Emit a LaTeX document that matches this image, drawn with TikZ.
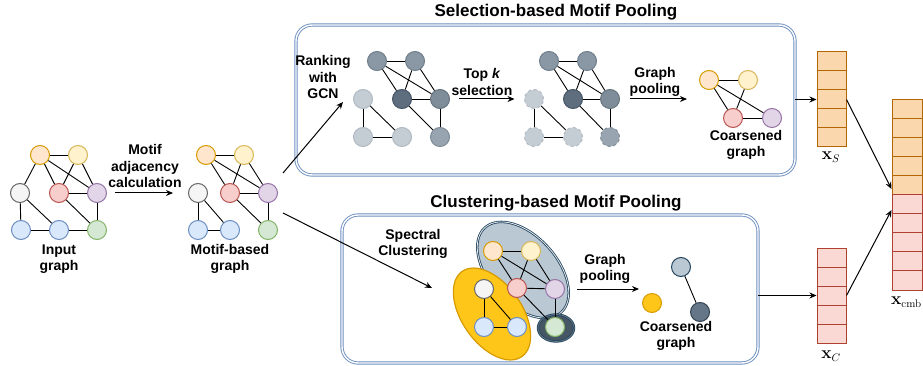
\documentclass[tikz,border=0pt]{standalone}
\usepackage{amsmath}
\usepackage[no-math]{fontspec}
\setmainfont{Liberation Sans}
\usetikzlibrary{arrows.meta}
\usetikzlibrary{shapes,arrows}
\usetikzlibrary{calc}

\definecolor{Forange}{HTML}{FFE6CC}\definecolor{Dorange}{HTML}{D79B00}
\definecolor{Fyellow}{HTML}{FFF2CC}\definecolor{Dyellow}{HTML}{D6B656}
\definecolor{Fwhite}{HTML}{F5F5F5}\definecolor{Dwhite}{HTML}{666666}
\definecolor{Fred}{HTML}{F8CECC}\definecolor{Dred}{HTML}{B85450}
\definecolor{Fpurple}{HTML}{E1D5E7}\definecolor{Dpurple}{HTML}{9673A6}
\definecolor{Fblue}{HTML}{DAE8FC}\definecolor{Dblue}{HTML}{6C8EBF}
\definecolor{Fgreen}{HTML}{D5E8D4}\definecolor{Dgreen}{HTML}{82B366}
\definecolor{Fgone}{HTML}{8A98A5}\definecolor{Dgone}{HTML}{6F7E8B}
\definecolor{Fgtwo}{HTML}{5E6E7F}\definecolor{Dgtwo}{HTML}{475666}
\definecolor{Fgthree}{HTML}{7F8D9A}\definecolor{Dgthree}{HTML}{66747F}
\definecolor{Fgfour}{HTML}{98A4AF}\definecolor{Dgfour}{HTML}{7F8C97}
\definecolor{Fgfive}{HTML}{C4CCD4}\definecolor{Dgfive}{HTML}{B0B9C2}
\definecolor{Famber}{HTML}{FFC61A}\definecolor{Damber}{HTML}{D79B00}
\definecolor{Fslate}{HTML}{BAC8D3}\definecolor{Dslate}{HTML}{23445D}
\definecolor{Fdark}{HTML}{647687}\definecolor{Ddark}{HTML}{314354}
\definecolor{Fvecs}{HTML}{FAD7AC}\definecolor{Dvecs}{HTML}{B46504}
\definecolor{Fvecc}{HTML}{FAD9D5}\definecolor{Dvecc}{HTML}{AE4132}

\tikzset{
  vtx/.style={circle, line width=1pt, minimum size=19pt, inner sep=0pt},
  lnk/.style={line width=0.9pt},
  arr/.style={-{Stealth[length=7pt,width=6pt]}, line width=1pt},
  txt/.style={font=\fontsize{14}{16.5}\selectfont\bfseries, align=center, inner sep=0pt},
  ttl/.style={font=\fontsize{17}{20}\selectfont\bfseries, inner sep=0pt},
  mth/.style={font=\fontsize{16}{18}\selectfont, inner sep=0pt},
  panel/.style={draw=Dblue, double=white, double distance=1.4pt, line width=0.9pt,
    rounded corners=16pt, fill=white, inner sep=0pt},
  vecS/.style={draw=Dvecs, fill=Fvecs, line width=1pt, minimum width=29pt,
    minimum height=19pt, inner sep=0pt},
  vecC/.style={draw=Dvecc, fill=Fvecc, line width=1pt, minimum width=29pt,
    minimum height=19pt, inner sep=0pt}
}

\begin{document}
\begin{tikzpicture}[x=1pt,y=-1pt]
\useasboundingbox (0,0) rectangle (923,366);

\node[ttl] (selTtl) at (556,12) {Selection-based Motif Pooling};
\node[ttl] (cluTtl) at (556,203) {Clustering-based Motif Pooling};
\node[panel, minimum width=499pt, minimum height=150pt] (selBox) at (545.5,100) {};
\node[panel, minimum width=416pt, minimum height=148pt] (cluBox) at (550,289) {};

\foreach \n/\x/\y/\c in
{1/40/155/orange, 2/78/155/yellow, 3/20/193/white, 4/59/193/red,
5/97/193/purple, 6/21/230/blue, 7/59/230/blue, 8/97/230/green}
\node[vtx, fill=F\c, draw=D\c] (i\n) at (\x,\y) {};
\foreach \u/\v in {1/2,1/3,1/4,1/5,2/4,2/5,3/6,3/7,4/5,4/8,5/8,6/7,7/8}
\draw[lnk] (i\u) -- (i\v);
\node[txt] (inLbl) at (59,259) {Input\\graph};

\foreach \n/\x/\y/\c in
{1/206/155/orange, 2/244/155/yellow, 3/198/193/white, 4/230/193/red,
5/268/193/purple, 6/198/230/blue, 7/230/230/blue, 8/268/230/green}
\node[vtx, fill=F\c, draw=D\c] (m\n) at (\x,\y) {};
\foreach \u/\v in {1/2,1/4,1/5,2/4,2/5,4/5,4/8,5/8,3/6,3/7,6/7}
\draw[lnk] (m\u) -- (m\v);
\node[txt] (motLbl) at (230,259) {Motif-based\\graph};

\node[txt] (adjLbl) at (145,166) {Motif\\adjacency\\calculation};
\draw[arr, shorten <=8pt, shorten >=15pt] (i5) -- (m3);

\coordinate (motOutA) at (283,173);
\coordinate (selIn) at (343,102);
\coordinate (motOutB) at (283,213);
\coordinate (cluIn) at (432,288);
\draw[arr] (motOutA) -- (selIn);
\draw[arr] (motOutB) -- (cluIn);

\node[txt] (rankLbl) at (323,77) {Ranking\\with\\GCN};
\foreach \n/\x/\y/\c in
{1/377/61/gone, 2/415/61/gone, 3/402/99/gtwo, 4/440/99/gthree,
5/363/99/gfive, 6/363/137/gfive, 7/402/137/gfive, 8/440/137/gfour}
\node[vtx, fill=F\c, draw=D\c] (s\n) at (\x,\y) {};
\foreach \u/\v in {1/2,1/3,1/4,2/3,2/4,3/4,3/8,4/8,5/6,5/7,6/7}
\draw[lnk] (s\u) -- (s\v);

\foreach \n/\x/\y/\c in
{1/549/61/gone, 2/587/61/gone, 3/573/99/gtwo, 4/610/99/gthree}
\node[vtx, fill=F\c, draw=D\c] (t\n) at (\x,\y) {};
\foreach \n/\x/\y/\c in
{5/534/99/gfive, 6/534/137/gfive, 7/573/137/gfive, 8/610/137/gfour}
\node[vtx, dashed, fill=F\c, draw=D\c] (t\n) at (\x,\y) {};
\foreach \u/\v in {1/2,1/3,1/4,2/3,2/4,3/4,3/8,4/8,5/6,5/7,6/7}
\draw[lnk] (t\u) -- (t\v);

\node[txt] (topLbl) at (482,82) {Top \textit{k}\\selection};
\draw[arr, shorten <=9pt, shorten >=9.5pt] (s4) -- (t5);

\node[txt] (selPoolLbl) at (655,82) {Graph\\pooling};
\coordinate (selPool) at (687,99);
\draw[arr, shorten <=10pt] (t4) -- (selPool);

\foreach \n/\x/\y/\c in
{1/709/80/orange, 2/748/80/yellow, 3/733/118/red, 4/772/118/purple}
\node[vtx, fill=F\c, draw=D\c] (c\n) at (\x,\y) {};
\foreach \u/\v in {1/2,1/3,1/4,2/3,3/4}
\draw[lnk] (c\u) -- (c\v);
\node[txt] (selCoLbl) at (746,145) {Coarsened\\graph};

\node[txt] (specLbl) at (413,244) {Spectral\\Clustering};
\draw[fill=Fslate, draw=Dslate, double=Fslate!40!white, double distance=0.8pt,
  line width=0.8pt, rotate around={-48:(523,270)}] (523,270) ellipse [x radius=57, y radius=34];
\draw[fill=Famber, draw=Damber, line width=1.2pt,
  rotate around={-55:(492,314)}] (492,314) ellipse [x radius=52, y radius=30];
\draw[fill=Ddark!90!white, draw=Dslate, double=Fdark, double distance=0.8pt,
  line width=0.8pt] (556,328) ellipse [x radius=18, y radius=13.5];

\foreach \n/\x/\y/\c in
{1/493/251/orange, 2/531/251/yellow, 3/484/289/white, 4/517/288/red,
5/555/289/purple, 6/484/327/blue, 7/517/327/blue, 8/555/327/green}
\node[vtx, fill=F\c, draw=D\c] (k\n) at (\x,\y) {};
\foreach \u/\v in {1/2,1/4,1/5,2/4,2/5,4/5,4/8,5/8,3/6,3/7,6/7}
\draw[lnk] (k\u) -- (k\v);

\node[txt] (cluPoolLbl) at (605,269) {Graph\\pooling};
\coordinate (cluPool) at (639,289);
\draw[arr, shorten <=12pt] (k5) -- (cluPool);

\node[vtx, fill=Famber, draw=Damber] (q1) at (652,303) {};
\node[vtx, fill=Fslate, draw=Dslate] (q2) at (681,267) {};
\node[vtx, fill=Fdark, draw=Ddark] (q3) at (700,312) {};
\draw[lnk] (q2) -- (q3);
\node[txt] (cluCoLbl) at (676,336) {Coarsened\\graph};

\foreach \i in {1,...,5}
\node[vecS] (xs\i) at (831.5,{42.5+19*\i}) {};
\foreach \i in {1,...,5}
\node[vecC] (xc\i) at (831.5,{238.5+19*\i}) {};
\foreach \i in {1,...,5}
\node[vecS, minimum width=30pt, minimum height=19.1pt] (cb\i) at (907,{89.5+19.1*\i}) {};
\foreach \i in {6,...,10}
\node[vecC, minimum width=30pt, minimum height=19.1pt] (cb\i) at (907,{89.5+19.1*\i}) {};

\node[mth] (xsLbl) at (831,157) {$\mathbf{x}_S$};
\node[mth] (xcLbl) at (831,356) {$\mathbf{x}_C$};
\node[mth, anchor=west] (cbLbl) at (891,302) {$\mathbf{x}_{\mathrm{cmb}}$};

\draw[arr] (selBox.east |- xs3) -- (xs3.west);
\draw[arr] (cluBox.east |- xc3) -- (xc3.west);
\draw[arr] (xs3.east) -- ([yshift=-4pt]cb5.west);
\draw[arr] (xc3.east) -- ([yshift=-6pt]cb6.west);
\end{tikzpicture}
\end{document}
